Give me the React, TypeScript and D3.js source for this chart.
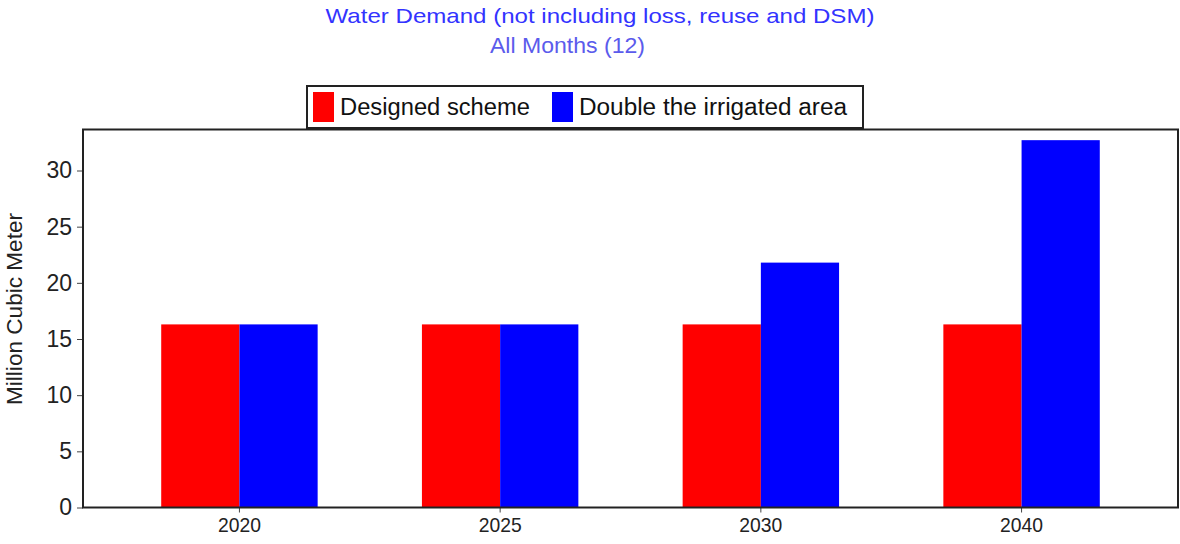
import React, { useEffect, useRef } from 'react';
import * as d3 from 'd3';

const years = ['2020', '2025', '2030', '2040'];
const seriesNames = ['Designed scheme', 'Double the irrigated area'];
const designedScheme = [16.3, 16.3, 16.3, 16.3];
const doubleIrrigated = [16.3, 16.3, 21.8, 32.7];
const seriesColors = ['#ff0000', '#0000ff'];
const yTicks = [0, 5, 10, 15, 20, 25, 30];

const App = () => {
  const svgRef = useRef<SVGSVGElement>(null);
  const width = 1180;
  const height = 544;

  useEffect(() => {
    const svg = d3.select(svgRef.current);
    svg.selectAll('*').remove();

    const font = '"Liberation Sans", Arial, sans-serif';
    const margin = { top: 129.5, right: 2, bottom: 36.5, left: 83 };
    const innerWidth = width - margin.left - margin.right;
    const innerHeight = height - margin.top - margin.bottom;

    const x0 = d3.scaleBand()
      .domain(years)
      .range([0, innerWidth])
      .paddingInner(0.4)
      .paddingOuter(0.3);

    const x1 = d3.scaleBand()
      .domain(seriesNames)
      .range([0, x0.bandwidth()]);

    const y = d3.scaleLinear()
      .domain([0, 33.65])
      .range([innerHeight, 0]);

    const values = [designedScheme, doubleIrrigated];

    // Titles
    svg.append('text')
      .attr('x', 600)
      .attr('y', 23)
      .attr('text-anchor', 'middle')
      .attr('font-family', font)
      .attr('font-size', 21)
      .attr('fill', '#3333ff')
      .attr('textLength', 549)
      .attr('lengthAdjust', 'spacingAndGlyphs')
      .text('Water Demand (not including loss, reuse and DSM)');

    svg.append('text')
      .attr('x', 567.5)
      .attr('y', 53)
      .attr('text-anchor', 'middle')
      .attr('font-family', font)
      .attr('font-size', 22)
      .attr('fill', '#5b5bec')
      .attr('textLength', 155)
      .attr('lengthAdjust', 'spacingAndGlyphs')
      .text('All Months (12)');

    const g = svg.append('g')
      .attr('transform', `translate(${margin.left},${margin.top})`);

    // Bars
    const groups = g.selectAll('.year')
      .data(years)
      .enter().append('g')
      .attr('class', 'year')
      .attr('transform', d => `translate(${x0(d)},0)`);

    groups.selectAll('rect')
      .data((d, i) => seriesNames.map((s, k) => ({ s, k, v: values[k][i] })))
      .enter().append('rect')
      .attr('x', d => x1(d.s)!)
      .attr('y', d => y(d.v))
      .attr('width', x1.bandwidth())
      .attr('height', d => innerHeight - y(d.v))
      .attr('fill', d => seriesColors[d.k]);

    // Axes
    const yAxis = g.append('g')
      .call(d3.axisLeft(y).tickValues(yTicks).tickSize(6).tickPadding(5));
    yAxis.select('.domain').remove();
    yAxis.selectAll('line').attr('stroke', '#444');
    yAxis.selectAll('text')
      .attr('font-family', font)
      .attr('font-size', 23)
      .attr('fill', '#222');

    const xAxis = g.append('g')
      .attr('transform', `translate(0,${innerHeight})`)
      .call(d3.axisBottom(x0).tickSize(5).tickPadding(5));
    xAxis.select('.domain').remove();
    xAxis.selectAll('line').attr('stroke', '#444');
    xAxis.selectAll('text')
      .attr('font-family', font)
      .attr('font-size', 21)
      .attr('fill', '#222')
      .attr('textLength', 43)
      .attr('lengthAdjust', 'spacingAndGlyphs');

    // Frame
    g.append('rect')
      .attr('x', 0)
      .attr('y', 0)
      .attr('width', innerWidth)
      .attr('height', innerHeight)
      .attr('fill', 'none')
      .attr('stroke', '#222')
      .attr('stroke-width', 2);

    // Y label
    svg.append('text')
      .attr('transform', `translate(22,309) rotate(-90)`)
      .attr('text-anchor', 'middle')
      .attr('font-family', font)
      .attr('font-size', 22)
      .attr('fill', '#222')
      .attr('textLength', 192)
      .attr('lengthAdjust', 'spacingAndGlyphs')
      .text('Million Cubic Meter');

    // Legend
    const legend = svg.append('g');
    legend.append('rect')
      .attr('x', 307)
      .attr('y', 86)
      .attr('width', 556)
      .attr('height', 42)
      .attr('fill', '#fff')
      .attr('stroke', '#222')
      .attr('stroke-width', 2);

    const legendX = [313, 552];
    const legendLen = [190, 268];
    const items = legend.selectAll('.item')
      .data(seriesNames)
      .enter().append('g')
      .attr('class', 'item')
      .attr('transform', (d, i) => `translate(${legendX[i]},92)`);

    items.append('rect')
      .attr('width', 21)
      .attr('height', 30)
      .attr('fill', (d, i) => seriesColors[i]);

    items.append('text')
      .attr('x', 27)
      .attr('y', 23)
      .attr('font-family', font)
      .attr('font-size', 23)
      .attr('fill', '#111')
      .attr('textLength', (d, i) => legendLen[i])
      .attr('lengthAdjust', 'spacingAndGlyphs')
      .text(d => d);
  }, []);

  return (
    <svg
      ref={svgRef}
      width={width}
      height={height}
      style={{ position: 'absolute', left: 0, top: 0, background: '#fff' }}
    />
  );
};

export default App;
